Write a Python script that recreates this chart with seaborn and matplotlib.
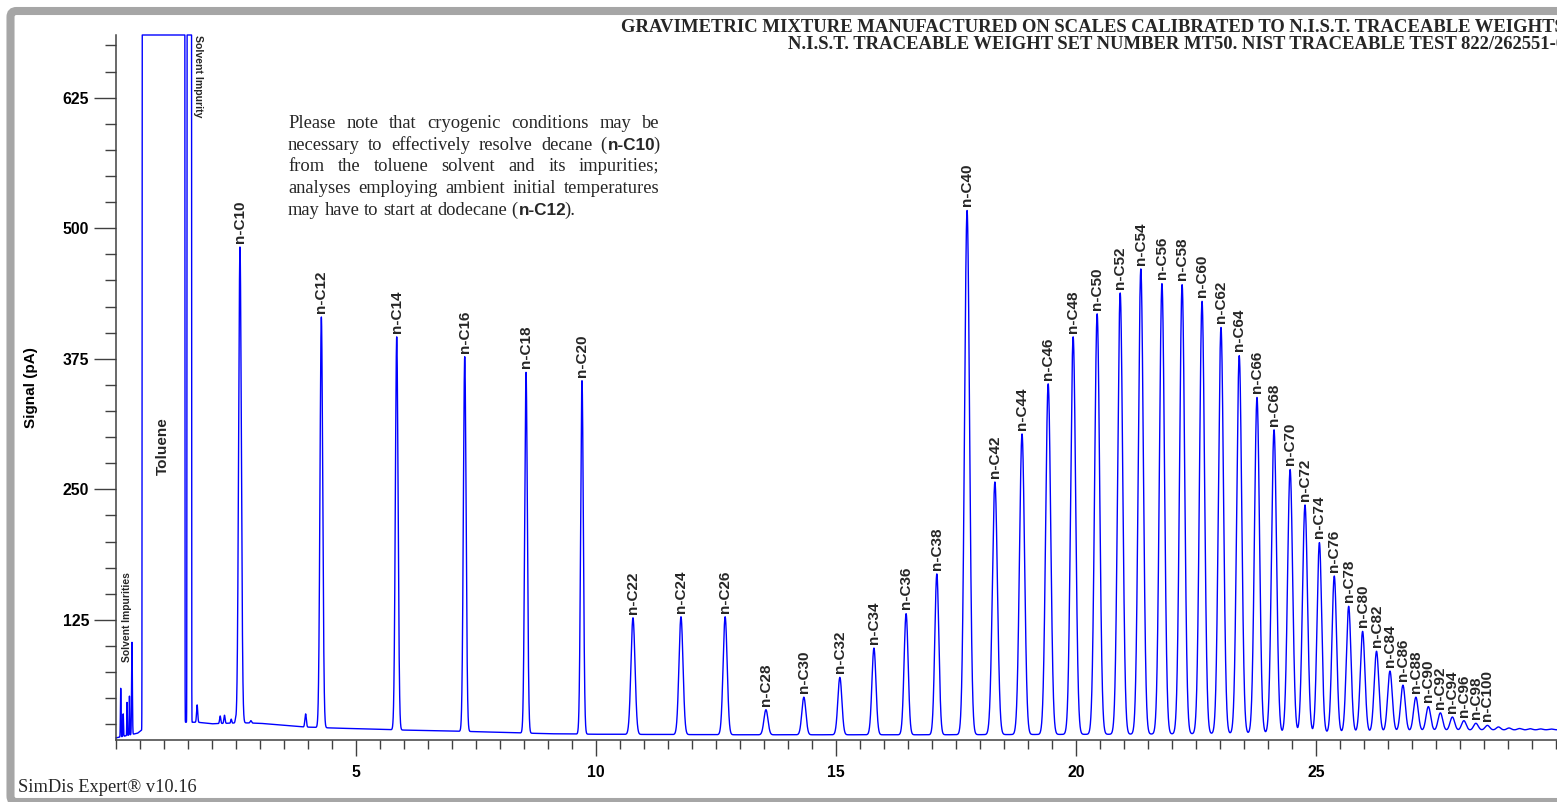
import numpy as np
import pandas as pd
import matplotlib
matplotlib.use('Agg')
import matplotlib.pyplot as plt
import seaborn as sns
from matplotlib.ticker import MultipleLocator, FixedLocator
from matplotlib.patches import FancyBboxPatch

# ══════════════════════════════════════════════════════════════
# DATOS (leídos del cromatograma)
# ══════════════════════════════════════════════════════════════
carbon_numbers = list(range(10, 101, 2))
retention_times = [2.583, 4.278, 5.848, 7.265, 8.542, 9.708,
                   10.77, 11.77, 12.69, 13.54, 14.33, 15.08, 15.79, 16.46, 17.10,
                   17.73, 18.31, 18.875, 19.42, 19.94, 20.44, 20.92, 21.35, 21.79,
                   22.21, 22.625, 23.02, 23.40, 23.77, 24.125, 24.46, 24.77,
                   25.07, 25.38, 25.68, 25.97, 26.26, 26.54, 26.81, 27.08, 27.34,
                   27.59, 27.84, 28.08, 28.33, 28.57]
apex_signals = [482, 415, 396, 377, 362, 354,
                127, 128, 128, 39, 51, 70, 98, 131, 169,
                517, 257, 303, 351, 396, 418, 438, 461, 447,
                446, 430, 405, 378, 338, 307, 269, 235,
                199, 167, 138, 114, 95, 76, 62.5, 51, 42,
                36, 32, 28.5, 26, 24]
peak_widths = [0.028] * 6 + [0.042] * 9 + [0.052] * 17 + [0.048] * 14

# picos sin etiqueta: impurezas del disolvente y ondulaciones tras n-C100
minor_times = [0.098, 0.15, 0.23, 0.28, 0.333, 1.69, 2.17, 2.26, 2.40, 2.49, 2.81, 3.95,
               28.80, 29.02, 29.24, 29.46, 29.68, 29.90]
minor_apex = [59.5, 35, 46, 52, 103.5, 43.6, 33, 33.7, 30, 29, 28.5, 35,
              22.5, 21.5, 21.0, 20.8, 20.6, 20.5]
minor_widths = [0.006, 0.006, 0.005, 0.005, 0.008, 0.012, 0.012, 0.012, 0.010, 0.010, 0.015, 0.015,
                0.045, 0.045, 0.045, 0.045, 0.045, 0.045]

# picos saturados (tolueno e impureza): inicio y fin de la meseta
saturated_starts = [0.556, 1.490]
saturated_ends = [1.423, 1.5625]
SATURATION = 685

# deriva de la línea base
baseline_times = [0, 0.45, 0.55, 1.45, 1.7, 2.0, 2.6, 3.0, 3.9, 4.5, 6.0, 7.5, 9.0,
                  10.0, 13.0, 17.0, 21.0, 25.0, 27.0, 28.5, 30.1]
baseline_levels = [12, 16.5, 20, 27, 27, 25.5, 26.5, 26, 22.5, 21.5, 19.5, 18, 16,
                   15.5, 15, 15, 15.5, 16.5, 18.5, 19.5, 19.8]

y_major = [125, 250, 375, 500, 625]
x_major = [5, 10, 15, 20, 25]

TITLE_LINES = ['GRAVIMETRIC MIXTURE MANUFACTURED ON SCALES CALIBRATED TO N.I.S.T. TRACEABLE WEIGHTS',
               'N.I.S.T. TRACEABLE WEIGHT SET NUMBER MT50. NIST TRACEABLE TEST 822/262551-0']
NOTE_LINES = ['Please note that cryogenic conditions may be',
              'necessary to effectively resolve decane (*n-C10*)',
              'from the toluene solvent and its impurities;',
              'analyses employing ambient initial temperatures',
              'may have to start at dodecane (*n-C12*).']

# ══════════════════════════════════════════════════════════════
# TRAZA
# ══════════════════════════════════════════════════════════════
t = np.linspace(0, 30.02, 60041)
base = np.interp(t, baseline_times, baseline_levels)
signal = base.copy()
for rt, ap, w in zip(retention_times + minor_times, apex_signals + minor_apex,
                     peak_widths + minor_widths):
    signal += (ap - np.interp(rt, baseline_times, baseline_levels)) * np.exp(-0.5 * ((t - rt) / w) ** 2)
for s0, s1 in zip(saturated_starts, saturated_ends):
    d = np.maximum(s0 - t, 0) + np.maximum(t - s1, 0)
    signal += 1e4 * np.exp(-0.5 * (d / 0.005) ** 2)
signal = np.minimum(signal, SATURATION)
df = pd.DataFrame({'time': t, 'signal': signal})

# ══════════════════════════════════════════════════════════════
# FIGURA
# ══════════════════════════════════════════════════════════════
sns.set_theme(style='white')
plt.rcParams['font.family'] = ['Liberation Sans', 'DejaVu Sans']
SANS_B = dict(family=['Liberation Sans', 'DejaVu Sans'], weight='bold')
SERIF = dict(family=['Liberation Serif', 'DejaVu Serif'])

W, H = 1557, 802
fig = plt.figure(figsize=(W / 100, H / 100), dpi=100)
fig.patch.set_facecolor('white')

# marco gris exterior
fig.add_artist(FancyBboxPatch((10.5 / 100, 0.0), 1600 / 100, (H - 11) / 100,
                              boxstyle='round,pad=0,rounding_size=0.06',
                              transform=fig.dpi_scale_trans, fill=False,
                              edgecolor='#a6a6a6', linewidth=5.8, clip_on=False))

ax = fig.add_axes([116 / W, 62 / H, (W - 116) / W, 705 / H])
sns.lineplot(data=df, x='time', y='signal', color='#0000ff', linewidth=1.0,
             estimator=None, sort=False, ax=ax, clip_on=False)
ax.set_xlim(0, 30.02)
ax.set_ylim(10, SATURATION)
sns.despine(ax=ax)
for sp in ['left', 'bottom']:
    ax.spines[sp].set_color('#404040')
    ax.spines[sp].set_linewidth(1.1)

ax.xaxis.set_major_locator(FixedLocator(x_major))
ax.xaxis.set_minor_locator(MultipleLocator(0.5))
ax.yaxis.set_major_locator(FixedLocator(y_major))
ax.yaxis.set_minor_locator(MultipleLocator(25))
ax.tick_params(axis='x', which='major', length=11.5, width=1, pad=6.5, color='#404040', bottom=True)
ax.tick_params(axis='x', which='minor', length=6.7, width=1, color='#404040', bottom=True)
ax.tick_params(axis='y', which='major', length=15.6, width=1, pad=3.6, color='#404040', left=True)
ax.tick_params(axis='y', which='minor', length=7.7, width=1, color='#404040', left=True)
for lab in ax.get_xticklabels() + ax.get_yticklabels():
    lab.set_fontsize(11.3)
    lab.set_fontweight('bold')
    lab.set_color('black')

ax.set_xlabel('')
ax.set_ylabel('Signal (pA)', fontsize=11, fontweight='bold', color='black')
ax.yaxis.set_label_coords(-0.054, 0.5)

# etiquetas de los picos
for cn, rt, ap in zip(carbon_numbers, retention_times, apex_signals):
    ax.annotate(f'n-C{cn}', xy=(rt, ap), xytext=(0, 3), textcoords='offset points',
                rotation=90, ha='center', va='bottom', fontsize=11, annotation_clip=False, **SANS_B)

ax.text(0.985, 291, 'Toluene', rotation=90, ha='center', va='center', fontsize=11, **SANS_B)
ax.text(0.23, 84.5, 'Solvent Impurities', rotation=90, ha='center', va='bottom', fontsize=7.4, **SANS_B)
ax.text(1.70, SATURATION, 'Solvent Impurity', rotation=270, ha='center', va='top', fontsize=7.6,
        clip_on=False, **SANS_B)

# títulos
for i, line in enumerate(TITLE_LINES):
    fig.text(1565 / W, (H - 32 - 17 * i) / H, line, ha='right', va='baseline',
             fontsize=13.4, **SERIF, weight='bold')

fig.text(18 / W, 10 / H, 'SimDis Expert® v10.16', ha='left', va='baseline', fontsize=13.2, **SERIF)

# nota justificada
renderer = fig.canvas.get_renderer()
NOTE_SIZE = {False: 13.3, True: 12.3}


def piece_width(s, bold):
    style = SANS_B if bold else SERIF
    tx = fig.text(0, 0, s, fontsize=NOTE_SIZE[bold], **style)
    w = tx.get_window_extent(renderer).width
    tx.remove()
    return w


def piece_pad(bold):
    return -2.0 if bold else 0.8


space = piece_width('n n', False) - piece_width('nn', False)
left, right = 288, 659.5
for i, line in enumerate(NOTE_LINES):
    words = []
    for word in line.split(' '):
        parts = word.split('*')
        words.append([(p, k % 2 == 1, piece_width(p, k % 2 == 1)) for k, p in enumerate(parts) if p])
    word_w = [sum(pw + piece_pad(b) for _, b, pw in w[:-1]) + w[-1][2] for w in words]
    if i == len(NOTE_LINES) - 1:
        gap = space
    else:
        gap = (right - left - sum(word_w)) / (len(words) - 1)
    x = left
    y = H - 128 - 21.7 * i
    for w, ww in zip(words, word_w):
        xx = x
        for p, b, pw in w:
            style = SANS_B if b else SERIF
            fig.text(xx / W, y / H, p, ha='left', va='baseline', fontsize=NOTE_SIZE[b], **style)
            xx += pw + piece_pad(b)
        x += ww + gap

plt.savefig('out.png', dpi=100)
